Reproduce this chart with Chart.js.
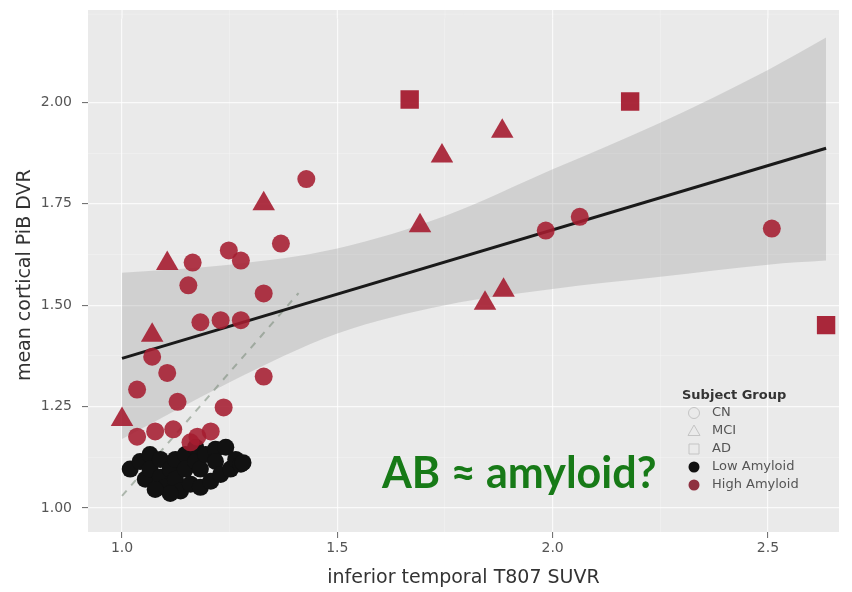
<!DOCTYPE html>
<html>
<head>
<meta charset="utf-8">
<script src="https://cdn.jsdelivr.net/npm/chart.js@4.4.1/dist/chart.umd.min.js"></script>
<style>
  html, body { margin: 0; padding: 0; background: #fff; }
  #wrap { width: 852px; height: 592px; position: relative; }
</style>
</head>
<body>
<div id="wrap"><canvas id="chart" width="852" height="592"></canvas></div>
<script>
// low amyloid subjects (black)
const lowX = [1.019, 1.042, 1.054, 1.065, 1.065, 1.089, 1.089, 1.100, 1.112, 1.124, 1.124, 1.136, 1.147, 1.147, 1.159, 1.171, 1.171, 1.182, 1.182, 1.194, 1.206, 1.217, 1.217, 1.229, 1.241, 1.252, 1.264, 1.276, 1.281, 1.112, 1.077];
const lowY = [1.096, 1.115, 1.071, 1.132, 1.096, 1.120, 1.076, 1.051, 1.096, 1.120, 1.071, 1.042, 1.132, 1.096, 1.059, 1.150, 1.115, 1.096, 1.051, 1.132, 1.066, 1.145, 1.115, 1.083, 1.150, 1.096, 1.120, 1.108, 1.112, 1.036, 1.046];

// high amyloid subjects, by group
const highCnX = [1.428, 1.369, 2.063, 1.984, 2.509, 1.164, 1.248, 1.276, 1.154, 1.329, 1.182, 1.229, 1.276, 1.070, 1.105, 1.329, 1.035, 1.129, 1.236, 1.035, 1.119, 1.175, 1.206, 1.077, 1.159];
const highCnY = [1.811, 1.652, 1.718, 1.684, 1.689, 1.605, 1.635, 1.610, 1.549, 1.529, 1.458, 1.463, 1.463, 1.373, 1.333, 1.324, 1.292, 1.262, 1.248, 1.176, 1.194, 1.176, 1.189, 1.189, 1.162];
const highMciX = [1.883, 1.743, 1.329, 1.692, 1.843, 1.886, 1.105, 1.070, 1.000];
const highMciY = [1.929, 1.868, 1.750, 1.696, 1.505, 1.537, 1.603, 1.426, 1.218];
const highAdX = [1.668, 2.180, 2.635];
const highAdY = [2.007, 2.002, 1.451];

// linear fit with confidence band
const fitX = [1.0, 2.635];
const fitY = [1.369, 1.887];
const bandX = [1.0, 1.25, 1.5, 1.75, 2.0, 2.25, 2.5, 2.635];
const bandLower = [1.17, 1.31, 1.43, 1.50, 1.54, 1.57, 1.60, 1.61];
const bandUpper = [1.58, 1.60, 1.64, 1.72, 1.835, 1.95, 2.08, 2.16];

// faint dashed line
const dashX = [1.0, 1.41];
const dashY = [1.03, 1.53];

const xMajor = [1.0, 1.5, 2.0, 2.5];
const xTickLabels = ['1.0', '1.5', '2.0', '2.5'];
const xMinor = [1.25, 1.75, 2.25];
const yMajor = [1.00, 1.25, 1.50, 1.75, 2.00];
const yTickLabels = ['1.00', '1.25', '1.50', '1.75', '2.00'];
const yMinor = [1.125, 1.375, 1.625, 1.875];

const legendTitle = 'Subject Group';
const legendLabels = ['CN', 'MCI', 'AD', 'Low Amyloid', 'High Amyloid'];
const noteText = 'AB \u2248 amyloid?';

const FONT = '"DejaVu Sans", sans-serif';
const PANEL_TOP = 10;
const toPts = (xs, ys) => xs.map((x, i) => ({ x, y: ys[i] }));

// grey panel, stretched up a little above the chart area like the original
const panelBg = {
  id: 'panelBg',
  beforeDraw(chart) {
    const { ctx, chartArea: a, scales } = chart;
    ctx.save();
    ctx.fillStyle = '#eaeaea';
    ctx.fillRect(a.left, PANEL_TOP, a.right - a.left, a.bottom - PANEL_TOP);
    ctx.strokeStyle = 'rgba(255,255,255,0.4)';
    ctx.lineWidth = 0.6;
    ctx.beginPath();
    ctx.moveTo(a.left, PANEL_TOP + (a.top - PANEL_TOP) / 2);
    ctx.lineTo(a.right, PANEL_TOP + (a.top - PANEL_TOP) / 2);
    ctx.stroke();
    [...xMajor, ...xMinor].forEach(v => {
      const px = scales.x.getPixelForValue(v);
      ctx.strokeStyle = xMajor.includes(v) ? 'rgba(255,255,255,0.75)' : 'rgba(255,255,255,0.4)';
      ctx.lineWidth = xMajor.includes(v) ? 1.2 : 0.6;
      ctx.beginPath();
      ctx.moveTo(px, PANEL_TOP);
      ctx.lineTo(px, a.top);
      ctx.stroke();
    });
    ctx.restore();
  }
};

const drawSym = (ctx, kind, x, y) => {
  ctx.beginPath();
  if (kind === 'circle') ctx.arc(x, y, 5.5, 0, Math.PI * 2);
  if (kind === 'triangle') { ctx.moveTo(x, y - 6); ctx.lineTo(x + 6, y + 4.5); ctx.lineTo(x - 6, y + 4.5); ctx.closePath(); }
  if (kind === 'rect') ctx.rect(x - 5, y - 5, 10, 10);
};

const overlay = {
  id: 'overlay',
  afterDraw(chart) {
    const { ctx } = chart;
    ctx.save();
    // legend
    ctx.fillStyle = '#333';
    ctx.font = 'bold 13px ' + FONT;
    ctx.textBaseline = 'middle';
    ctx.fillText(legendTitle, 682, 396);
    ctx.font = '13px ' + FONT;
    const rows = [413, 431, 449, 467, 485];
    const kinds = ['circle', 'triangle', 'rect', 'circle', 'circle'];
    rows.forEach((ry, i) => {
      drawSym(ctx, kinds[i], 694, ry);
      if (i < 3) { ctx.strokeStyle = '#c4c4c4'; ctx.lineWidth = 1; ctx.stroke(); }
      else { ctx.fillStyle = i === 3 ? '#111' : '#8f3040'; ctx.fill(); }
      ctx.fillStyle = '#555';
      ctx.fillText(legendLabels[i], 712, ry);
    });
    // annotation
    ctx.fillStyle = '#177a17';
    ctx.font = 'bold 43px Lato, "Open Sans", sans-serif';
    ctx.textBaseline = 'alphabetic';
    ctx.fillText(noteText, 382, 488);
    ctx.restore();
  }
};

const gridColor = (major) => (c) => major.includes(c.tick && c.tick.value) ? 'rgba(255,255,255,0.75)' : 'rgba(255,255,255,0.4)';
const gridWidth = (major) => (c) => major.includes(c.tick && c.tick.value) ? 1.2 : 0.6;
const tickColor = (major) => (c) => major.includes(c.tick && c.tick.value) ? '#666' : 'rgba(0,0,0,0)';

new Chart(document.getElementById('chart'), {
  type: 'scatter',
  data: {
    datasets: [
      { type: 'line', data: toPts(bandX, bandLower), borderWidth: 0, pointRadius: 0, fill: false, cubicInterpolationMode: 'monotone', order: 5 },
      { type: 'line', data: toPts(bandX, bandUpper), borderWidth: 0, pointRadius: 0, fill: '-1', backgroundColor: 'rgba(150,150,150,0.3)', cubicInterpolationMode: 'monotone', order: 5 },
      { type: 'line', data: toPts(dashX, dashY), borderColor: 'rgba(110,130,110,0.5)', borderWidth: 2, borderDash: [7, 7], pointRadius: 0, fill: false, order: 4 },
      { type: 'line', data: toPts(fitX, fitY), borderColor: '#1a1a1a', borderWidth: 3, pointRadius: 0, fill: false, order: 3 },
      { label: 'Low Amyloid', data: toPts(lowX, lowY), pointStyle: 'circle', pointRadius: 8.5, backgroundColor: '#111', borderWidth: 0, order: 2 },
      { label: 'High CN', data: toPts(highCnX, highCnY), pointStyle: 'circle', pointRadius: 9, backgroundColor: 'rgba(165,28,48,0.88)', borderWidth: 0, order: 1 },
      { label: 'High MCI', data: toPts(highMciX, highMciY), pointStyle: 'triangle', pointRadius: 13, backgroundColor: 'rgba(165,28,48,0.9)', borderWidth: 0, order: 1 },
      { label: 'High AD', data: toPts(highAdX, highAdY), pointStyle: 'rect', pointRadius: 13, backgroundColor: 'rgba(165,28,48,0.95)', borderWidth: 0, order: 1 }
    ]
  },
  options: {
    responsive: false,
    animation: false,
    events: [],
    layout: { padding: { top: 2, right: 10, left: 0, bottom: 0 } },
    plugins: { legend: { display: false }, tooltip: { enabled: false } },
    scales: {
      x: {
        type: 'linear', min: 0.921, max: 2.665,
        afterBuildTicks: (s) => { s.ticks = [...xMajor, ...xMinor].sort((a, b) => a - b).map(v => ({ value: v })); },
        afterFit: (s) => { s.height = 60; },
        border: { display: false },
        grid: { color: gridColor(xMajor), lineWidth: gridWidth(xMajor), tickColor: tickColor(xMajor), tickLength: 6, tickWidth: 1 },
        ticks: { autoSkip: false, maxRotation: 0, padding: 2, color: '#555', font: { size: 14, family: FONT },
          callback: (v) => { const i = xMajor.indexOf(v); return i >= 0 ? xTickLabels[i] : ''; } },
        title: { display: true, text: 'inferior temporal T807 SUVR', color: '#333', font: { size: 19, family: FONT }, padding: { top: 0, bottom: 3 } }
      },
      y: {
        type: 'linear', min: 0.941, max: 2.207,
        afterBuildTicks: (s) => { s.ticks = [...yMajor, ...yMinor].sort((a, b) => a - b).map(v => ({ value: v })); },
        afterFit: (s) => { s.width = 88; },
        border: { display: false },
        grid: { color: gridColor(yMajor), lineWidth: gridWidth(yMajor), tickColor: tickColor(yMajor), tickLength: 6, tickWidth: 1 },
        ticks: { autoSkip: false, padding: 10, color: '#555', font: { size: 14, family: FONT },
          callback: (v) => { const i = yMajor.indexOf(v); return i >= 0 ? yTickLabels[i] : ''; } },
        title: { display: true, text: 'mean cortical PiB DVR', color: '#333', font: { size: 19, family: FONT }, padding: { top: 14, bottom: 0 } }
      }
    }
  },
  plugins: [panelBg, overlay]
});
</script>
</body>
</html>
